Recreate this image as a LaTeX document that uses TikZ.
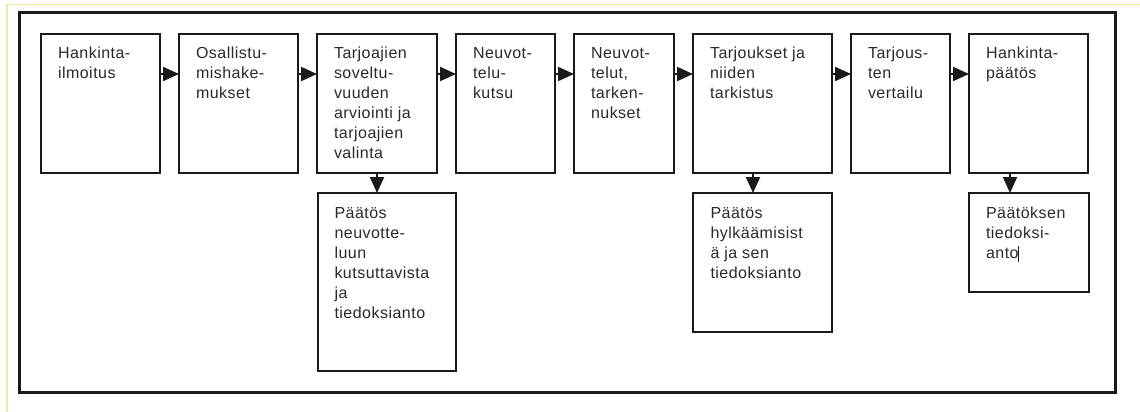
\documentclass[tikz,border=0pt]{standalone}
\usepackage{fontspec}
\setmainfont{Liberation Sans}[LetterSpace=3]
\usetikzlibrary{arrows.meta}
\definecolor{ink}{HTML}{1A1A1A}
\definecolor{txt}{HTML}{2A2A2A}
\definecolor{edge}{HTML}{F8E6A0}
\newcommand\steptext[1]{\parbox[t]{140pt}{\fontsize{16}{20}\selectfont\raggedright\leavevmode#1}}
\tikzset{
  stepbox/.style={draw=ink, line width=2pt, fill=white, inner sep=0pt, outer sep=0pt,
    anchor=north west, minimum width=#1},
  flow/.style={draw=ink, line width=2pt, -{Triangle[length=16pt,width=14pt]}},
  lbl/.style={anchor=base west, inner sep=0pt, outer sep=0pt, text=txt},
}
\begin{document}
\begin{tikzpicture}[x=1pt,y=-1pt]
\useasboundingbox (0,0) rectangle (1140,412);
\fill[white] (0,0) rectangle (1140,412);
% thin page edge
\draw[edge, line width=1.2pt] (7,412) -- (7,4.3) -- (1140,4.3);
% outer frame
\draw[ink, line width=3pt] (19.5,13) rectangle (1115,392);

% main row
\node[stepbox=119pt, minimum height=139pt] (b1) at (41,34) {};
\node[stepbox=119pt, minimum height=139pt] (b2) at (179,34) {};
\node[stepbox=120pt, minimum height=139pt] (b3) at (317,34) {};
\node[stepbox=99pt,  minimum height=139pt] (b4) at (456,34) {};
\node[stepbox=100pt, minimum height=139pt] (b5) at (574,34) {};
\node[stepbox=139pt, minimum height=139pt] (b6) at (693,34) {};
\node[stepbox=99pt,  minimum height=139pt] (b7) at (851,34) {};
\node[stepbox=119pt, minimum height=139pt] (b8) at (969,34) {};

% decision boxes
\node[stepbox=138pt, minimum height=178pt] (c3) at (317.5,193) {};
\node[stepbox=139pt, minimum height=139pt] (c6) at (693,193) {};
\node[stepbox=120pt, minimum height=99pt]  (c8) at (969,193) {};

% texts
\node[lbl] (t1) at (58,59) {\steptext{Hankinta-\\ilmoitus}};
\node[lbl] (t2) at (196,59) {\steptext{Osallistu-\\mishake-\\mukset}};
\node[lbl] (t3) at (334,59) {\steptext{Tarjoajien\\soveltu-\\vuuden\\arviointi ja\\tarjoajien\\valinta}};
\node[lbl] (t4) at (473,59) {\steptext{Neuvot-\\telu-\\kutsu}};
\node[lbl] (t5) at (591,59) {\steptext{Neuvot-\\telut,\\tarken-\\nukset}};
\node[lbl] (t6) at (710,59) {\steptext{Tarjoukset ja\\niiden\\tarkistus}};
\node[lbl] (t7) at (868,59) {\steptext{Tarjous-\\ten\\vertailu}};
\node[lbl] (t8) at (986,59) {\steptext{Hankinta-\\päätös}};
\node[lbl] (u3) at (334.5,218) {\steptext{Päätös\\neuvotte-\\luun\\kutsuttavista\\ja\\tiedoksianto}};
\node[lbl] (u6) at (710.5,218) {\steptext{Päätös\\hylkäämisist\\ä ja sen\\tiedoksianto}};
\node[lbl] (u8) at (986,218) {\steptext{Päätöksen\\tiedoksi-\\anto}};
% text cursor
\draw[ink, line width=1.2pt] (1018.5,246) -- (1018.5,262);

% flow along the main row
\foreach \a/\b in {b1/b2,b2/b3,b3/b4,b4/b5,b5/b6,b6/b7,b7/b8}
  \draw[flow] ([yshift=-40pt]\a.north east) -- ([yshift=-40pt]\b.north west);

% down to the decision boxes
\draw[flow] ([xshift=60pt]b3.south west) -- ([xshift=60pt]b3.south west |- c3.north);
\draw[flow] ([xshift=60pt]b6.south west) -- ([xshift=60pt]c6.north west);
\draw[flow] ([xshift=41pt]b8.south west) -- ([xshift=41pt]c8.north west);
\end{tikzpicture}
\end{document}
